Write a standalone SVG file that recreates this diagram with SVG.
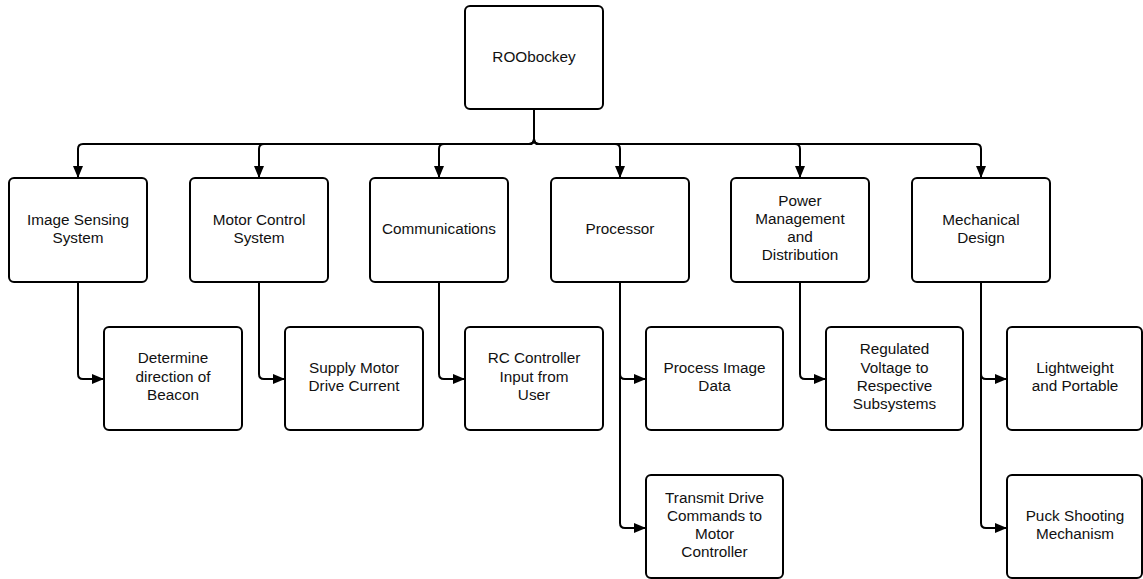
<svg xmlns="http://www.w3.org/2000/svg" width="1143" height="579" viewBox="0 0 1143 579">
  <style>
    .box { fill: #ffffff; stroke: #000000; stroke-width: 2; }
    .lbl { font-family: "Liberation Sans", Arial, sans-serif; font-size: 15.3px; fill: #111111; text-anchor: middle; }
    .wire { fill: none; stroke: #000000; stroke-width: 2; marker-end: url(#head); }
  </style>
  <defs>
    <marker id="head" viewBox="0 0 12 10" refX="12" refY="5" markerWidth="12" markerHeight="10" markerUnits="userSpaceOnUse" orient="auto">
      <path d="M0 0 L12 5 L0 10 Z" fill="#000000"/>
    </marker>
  </defs>
  <rect width="1143" height="579" fill="#ffffff"/>

  <!-- connectors -->
  <g id="connectors">
    <path class="wire" d="M534 109 V139 Q534 144 529 144 H83 Q78 144 78 149 V178"/>
    <path class="wire" d="M534 109 V139 Q534 144 529 144 H264 Q259 144 259 149 V178"/>
    <path class="wire" d="M534 109 V139 Q534 144 529 144 H444 Q439 144 439 149 V178"/>
    <path class="wire" d="M534 109 V139 Q534 144 539 144 H615 Q620 144 620 149 V178"/>
    <path class="wire" d="M534 109 V139 Q534 144 539 144 H795 Q800 144 800 149 V178"/>
    <path class="wire" d="M534 109 V139 Q534 144 539 144 H976 Q981 144 981 149 V178"/>

    <path class="wire" d="M78 282 V374 Q78 379 83 379 H104"/>
    <path class="wire" d="M259 282 V374 Q259 379 264 379 H285"/>
    <path class="wire" d="M439 282 V374 Q439 379 444 379 H465"/>
    <path class="wire" d="M620 282 V374 Q620 379 625 379 H646"/>
    <path class="wire" d="M620 282 V523 Q620 528 625 528 H646"/>
    <path class="wire" d="M800 282 V374 Q800 379 805 379 H826"/>
    <path class="wire" d="M981 282 V374 Q981 379 986 379 H1007"/>
    <path class="wire" d="M981 282 V523 Q981 528 986 528 H1007"/>
  </g>

  <!-- root -->
  <g id="root">
    <rect class="box" x="465" y="6" width="138" height="103" rx="5"/>
    <text class="lbl" x="534" y="61.5">ROObockey</text>
  </g>

  <!-- subsystems -->
  <g id="image-sensing">
    <rect class="box" x="9" y="178" width="138" height="104" rx="5"/>
    <text class="lbl" x="78" y="224.5">Image Sensing</text>
    <text class="lbl" x="78" y="242.8">System</text>
  </g>
  <g id="motor-control">
    <rect class="box" x="190" y="178" width="138" height="104" rx="5"/>
    <text class="lbl" x="259" y="224.5">Motor Control</text>
    <text class="lbl" x="259" y="242.8">System</text>
  </g>
  <g id="communications">
    <rect class="box" x="370" y="178" width="138" height="104" rx="5"/>
    <text class="lbl" x="439" y="233.5">Communications</text>
  </g>
  <g id="processor">
    <rect class="box" x="551" y="178" width="138" height="104" rx="5"/>
    <text class="lbl" x="620" y="233.5">Processor</text>
  </g>
  <g id="power">
    <rect class="box" x="731" y="178" width="138" height="104" rx="5"/>
    <text class="lbl" x="800" y="205.5">Power</text>
    <text class="lbl" x="800" y="223.8">Management</text>
    <text class="lbl" x="800" y="242.1">and</text>
    <text class="lbl" x="800" y="260.4">Distribution</text>
  </g>
  <g id="mechanical">
    <rect class="box" x="912" y="178" width="138" height="104" rx="5"/>
    <text class="lbl" x="981" y="224.5">Mechanical</text>
    <text class="lbl" x="981" y="242.8">Design</text>
  </g>

  <!-- requirements -->
  <g id="beacon">
    <rect class="box" x="104" y="327" width="138" height="103" rx="5"/>
    <text class="lbl" x="173" y="363.3">Determine</text>
    <text class="lbl" x="173" y="381.6">direction of</text>
    <text class="lbl" x="173" y="399.9">Beacon</text>
  </g>
  <g id="drive-current">
    <rect class="box" x="285" y="327" width="138" height="103" rx="5"/>
    <text class="lbl" x="354" y="372.5">Supply Motor</text>
    <text class="lbl" x="354" y="390.8">Drive Current</text>
  </g>
  <g id="rc-input">
    <rect class="box" x="465" y="327" width="138" height="103" rx="5"/>
    <text class="lbl" x="534" y="363.3">RC Controller</text>
    <text class="lbl" x="534" y="381.6">Input from</text>
    <text class="lbl" x="534" y="399.9">User</text>
  </g>
  <g id="image-data">
    <rect class="box" x="646" y="327" width="137" height="103" rx="5"/>
    <text class="lbl" x="714.5" y="372.5">Process Image</text>
    <text class="lbl" x="714.5" y="390.8">Data</text>
  </g>
  <g id="drive-commands">
    <rect class="box" x="646" y="475" width="137" height="103" rx="5"/>
    <text class="lbl" x="714.5" y="502.5">Transmit Drive</text>
    <text class="lbl" x="714.5" y="520.8">Commands to</text>
    <text class="lbl" x="714.5" y="539.1">Motor</text>
    <text class="lbl" x="714.5" y="557.4">Controller</text>
  </g>
  <g id="regulated-voltage">
    <rect class="box" x="826" y="327" width="137" height="103" rx="5"/>
    <text class="lbl" x="894.5" y="354.2">Regulated</text>
    <text class="lbl" x="894.5" y="372.5">Voltage to</text>
    <text class="lbl" x="894.5" y="390.8">Respective</text>
    <text class="lbl" x="894.5" y="409.1">Subsystems</text>
  </g>
  <g id="lightweight">
    <rect class="box" x="1007" y="327" width="135" height="103" rx="5"/>
    <text class="lbl" x="1075" y="372.5">Lightweight</text>
    <text class="lbl" x="1075" y="390.8">and Portable</text>
  </g>
  <g id="puck-shooter">
    <rect class="box" x="1007" y="475" width="135" height="103" rx="5"/>
    <text class="lbl" x="1075" y="520.5">Puck Shooting</text>
    <text class="lbl" x="1075" y="538.8">Mechanism</text>
  </g>
</svg>
